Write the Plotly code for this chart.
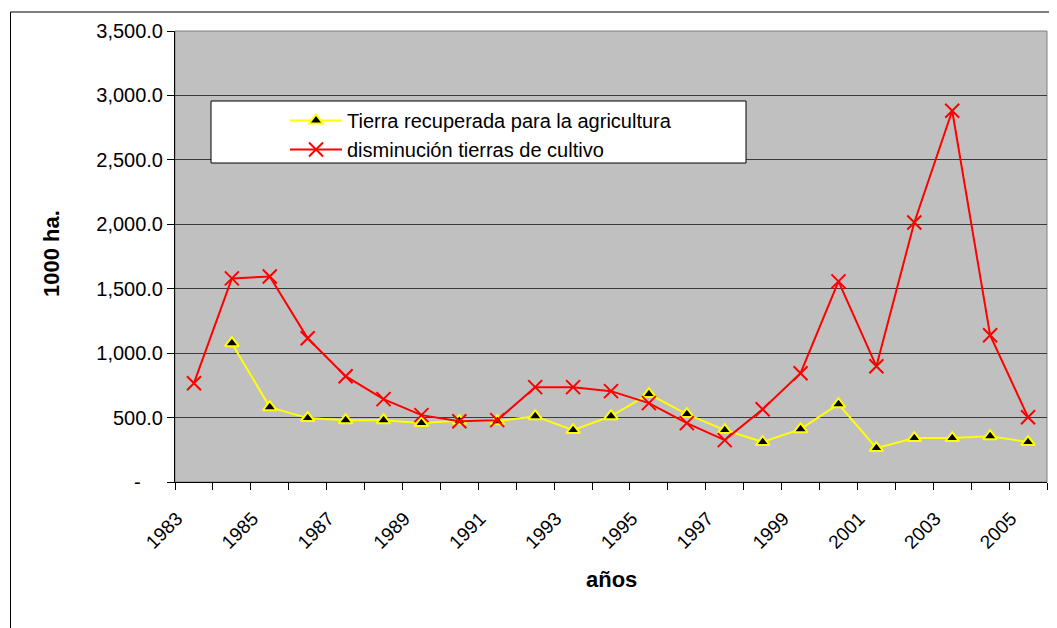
import plotly.graph_objects as go

years = list(range(1983, 2006))
recuperada = [None, 1077, 581, 496, 480, 480, 457, 475, 472, 511, 403, 511, 682, 527, 403, 310, 410, 604, 263, 341, 341, 356, 310]
disminucion = [767, 1580, 1595, 1115, 821, 643, 519, 472, 480, 736, 736, 705, 612, 457, 325, 565, 844, 1557, 898, 2014, 2881, 1139, 503]
xtick_years = years[::2]
ytick_vals = [0, 500, 1000, 1500, 2000, 2500, 3000, 3500]
ytick_text = ["-\u00a0\u00a0\u00a0\u00a0", "500.0", "1,000.0", "1,500.0", "2,000.0", "2,500.0", "3,000.0", "3,500.0"]

FONT = "Liberation Sans, Arial, sans-serif"

# page has an 8px body margin: figure is placed at (8, 8)
OFF = 8
L, T, PW, PH = 175 - OFF, 31 - OFF, 872, 451
W, H = 1057 - OFF, 628 - OFF


def px(x):
    return (x - OFF - L) / PW


def py(y):
    return (T + PH - (y - OFF)) / PH


fig = go.Figure()
fig.add_trace(go.Scatter(
    x=years, y=recuperada, mode="lines+markers",
    name="Tierra recuperada para la agricultura",
    line=dict(color="#FFFF00", width=2),
    marker=dict(symbol="triangle-up", size=12, color="black", line=dict(color="#FFFF00", width=2)),
    connectgaps=False,
))
fig.add_trace(go.Scatter(
    x=years, y=disminucion, mode="lines+markers",
    name="disminución tierras de cultivo",
    line=dict(color="#FF0000", width=2),
    marker=dict(symbol="x-thin", size=14, color="#FF0000", line=dict(color="#FF0000", width=2)),
))

fig.update_layout(
    width=W, height=H,
    margin=dict(l=L, r=W - L - PW, t=T, b=H - T - PH),
    paper_bgcolor="white",
    plot_bgcolor="#C0C0C0",
    font=dict(family=FONT, size=20, color="black"),
    showlegend=True,
    legend=dict(
        x=px(285), y=py(101), xanchor="left", yanchor="top",
        bgcolor="rgba(0,0,0,0)", borderwidth=0,
        font=dict(family=FONT, size=20, color="black"),
        itemwidth=52, tracegroupgap=0,
    ),
    xaxis=dict(
        range=[1982.5, 2005.5],
        tickvals=xtick_years, ticktext=[str(y) for y in xtick_years],
        ticks="", tickangle=-45,
        tickfont=dict(family=FONT, size=19),
        ticklabelshift=-17, ticklabelstandoff=17,
        showgrid=False, zeroline=False,
        showline=True, linecolor="black", linewidth=1,
        minor=dict(ticks="outside", ticklen=7, tickcolor="black", tick0=1982.5, dtick=1, showgrid=False),
    ),
    yaxis=dict(
        range=[0, 3500],
        tickvals=ytick_vals, ticktext=ytick_text,
        ticks="outside", ticklen=7, tickcolor="black",
        tickfont=dict(family=FONT, size=20),
        showgrid=True, gridcolor="#3a3a3a", gridwidth=1,
        zeroline=False,
        showline=True, linecolor="black", linewidth=1,
    ),
    shapes=[
        dict(type="rect", xref="paper", yref="paper", x0=0, x1=1, y0=0, y1=1,
             line=dict(color="#808080", width=1), layer="below"),
        dict(type="rect", xref="paper", yref="paper",
             x0=px(211), x1=px(746), y0=py(163), y1=py(101),
             fillcolor="white", line=dict(color="black", width=1), layer="above"),
        dict(type="line", xref="paper", yref="paper",
             x0=px(10.5), x1=px(10.5), y0=-0.5, y1=py(12),
             line=dict(color="black", width=1)),
        dict(type="line", xref="paper", yref="paper",
             x0=px(10.5), x1=1.2, y0=py(12), y1=py(12),
             line=dict(color="black", width=1)),
    ],
    annotations=[
        dict(text="<b>1000 ha.</b>", xref="paper", yref="paper", x=px(51), y=py(254),
             textangle=-90, showarrow=False, font=dict(family=FONT, size=22),
             xanchor="center", yanchor="middle"),
        dict(text="<b>años</b>", xref="paper", yref="paper", x=px(611), y=py(579),
             showarrow=False, font=dict(family=FONT, size=22),
             xanchor="center", yanchor="middle"),
    ],
)

fig.write_html("out.html")
